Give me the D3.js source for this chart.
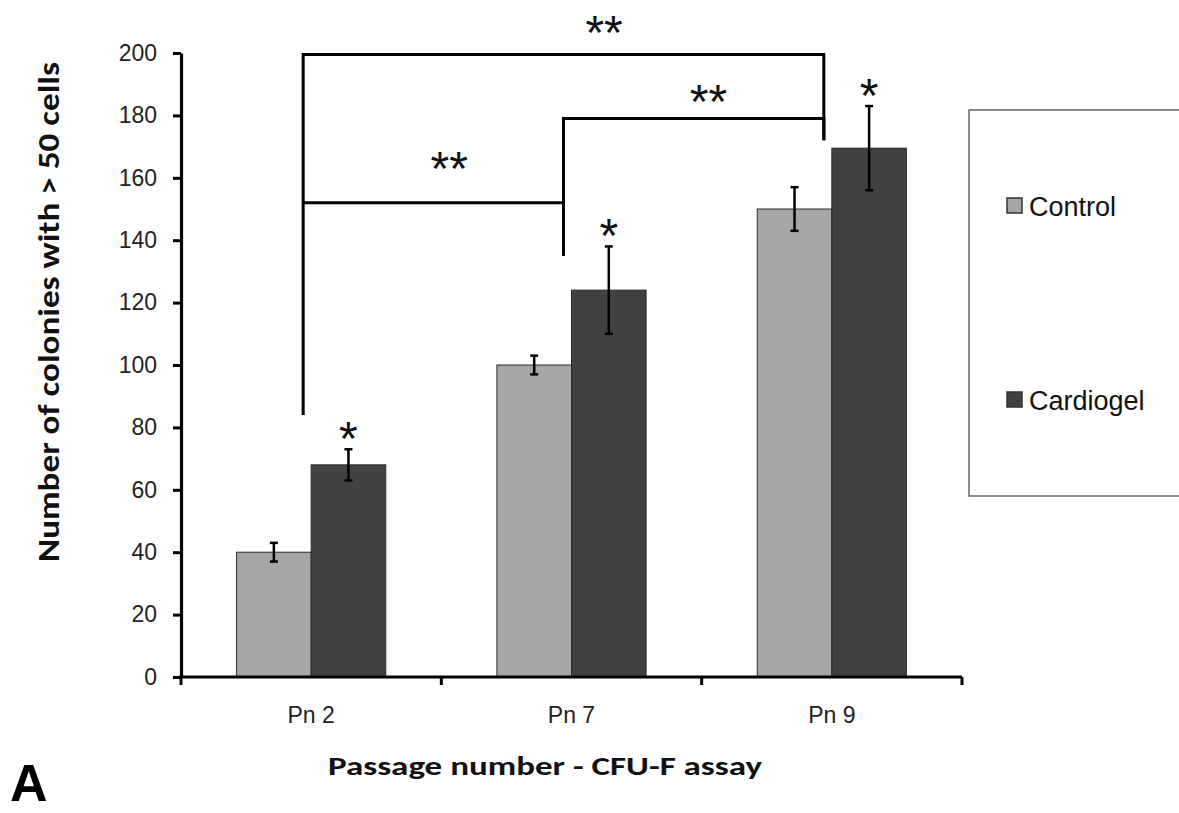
<!DOCTYPE html>
<html>
<head>
<meta charset="utf-8">
<script src="https://cdn.jsdelivr.net/npm/d3@7"></script>
<style>
  body { margin: 0; background: #fff; }
  svg { display: block; }
</style>
</head>
<body>
<div id="chart"></div>
<script>
"use strict";

// values
var categories = ["Pn 2", "Pn 7", "Pn 9"];
var seriesNames = ["Control", "Cardiogel"];
var controlValues = [40, 100, 150];
var controlErrors = [3, 3, 7];
var cardiogelValues = [68, 124, 169.5];
var cardiogelErrors = [5, 14, 13.5];
var cardiogelStars = ["*", "*", "*"];
var yTicks = [0, 20, 40, 60, 80, 100, 120, 140, 160, 180, 200];

// significance brackets: from / to category, height of bar, leg ends, label spot
var bracketFrom = [0, 1, 0];
var bracketTo = [2, 2, 1];
var bracketLevel = [199.5, 179, 152];
var bracketLeftEnd = [84, 135, 152];
var bracketRightEnd = [172, 172, 135];
var bracketLabel = ["**", "**", "**"];
var bracketLabelPos = [0.578, 0.557, 0.561];
var bracketLabelY = [210, 188, 166.5];

var colors = { Control: "#a6a6a6", Cardiogel: "#414141" };

var width = 1179, height = 813;
var svg = d3.select("#chart").append("svg")
    .attr("width", width)
    .attr("height", height);

var x = d3.scaleBand().domain(categories).range([181, 962]);
var xSub = d3.scaleBand().domain(seriesNames).range([0, x.bandwidth()]).paddingOuter(0.745);
var y = d3.scaleLinear().domain([0, 200]).range([677, 53]);

var rows = categories.map(function (c, i) {
    return [
        { cat: c, name: "Control", value: controlValues[i], err: controlErrors[i], star: "" },
        { cat: c, name: "Cardiogel", value: cardiogelValues[i], err: cardiogelErrors[i], star: cardiogelStars[i] }
    ];
});
var bars = d3.merge(rows);

// bars
svg.append("g").selectAll("rect")
    .data(bars)
    .enter().append("rect")
    .attr("x", function (d) { return x(d.cat) + xSub(d.name); })
    .attr("y", function (d) { return y(d.value); })
    .attr("width", xSub.bandwidth())
    .attr("height", function (d) { return y(0) - y(d.value); })
    .attr("fill", function (d) { return colors[d.name]; })
    .attr("stroke", "#2a2a2a")
    .attr("stroke-width", 1);

// error bars
var err = svg.append("g").attr("stroke", "#000").attr("stroke-width", 2.5).selectAll("g")
    .data(bars)
    .enter().append("g")
    .attr("transform", function (d) { return "translate(" + (x(d.cat) + xSub(d.name) + xSub.bandwidth() / 2) + ",0)"; });
err.append("line")
    .attr("y1", function (d) { return y(d.value + d.err); })
    .attr("y2", function (d) { return y(d.value - d.err); });
err.append("line")
    .attr("x1", -4).attr("x2", 4)
    .attr("y1", function (d) { return y(d.value + d.err); })
    .attr("y2", function (d) { return y(d.value + d.err); });
err.append("line")
    .attr("x1", -4).attr("x2", 4)
    .attr("y1", function (d) { return y(d.value - d.err); })
    .attr("y2", function (d) { return y(d.value - d.err); });

// stars over bars
var starSize = 48;
svg.append("g").selectAll("text")
    .data(bars.filter(function (d) { return d.star; }))
    .enter().append("text")
    .attr("x", function (d) { return x(d.cat) + xSub(d.name) + xSub.bandwidth() / 2; })
    .attr("y", function (d) { return y(d.value + d.err) - 22 + starSize * 0.575; })
    .attr("text-anchor", "middle")
    .attr("font-family", "Liberation Sans, Arial, sans-serif")
    .attr("font-size", starSize)
    .attr("fill", "#111")
    .text(function (d) { return d.star; });

// brackets
function legX(i) { return x(categories[i]) + x.bandwidth() / 2 - 8; }
var br = svg.append("g").selectAll("g")
    .data(bracketFrom.map(function (f, i) { return i; }))
    .enter().append("g");
br.append("path")
    .attr("fill", "none")
    .attr("stroke", "#000")
    .attr("stroke-width", 3)
    .attr("d", function (i) {
        return "M" + legX(bracketFrom[i]) + "," + y(bracketLeftEnd[i]) +
            "V" + y(bracketLevel[i]) +
            "H" + legX(bracketTo[i]) +
            "V" + y(bracketRightEnd[i]);
    });
br.append("text")
    .attr("x", function (i) {
        var a = legX(bracketFrom[i]), b = legX(bracketTo[i]);
        return a + (b - a) * bracketLabelPos[i];
    })
    .attr("y", function (i) { return y(bracketLabelY[i]) + starSize * 0.575; })
    .attr("text-anchor", "middle")
    .attr("font-family", "Liberation Sans, Arial, sans-serif")
    .attr("font-size", starSize)
    .attr("fill", "#111")
    .text(function (i) { return bracketLabel[i]; });

// y axis
var yAxis = svg.append("g")
    .attr("transform", "translate(181,0)")
    .call(d3.axisLeft(y).tickValues(yTicks).tickSize(8).tickSizeOuter(0).tickPadding(16));
yAxis.select(".domain").attr("stroke-width", 3.2);
yAxis.selectAll(".tick line").attr("stroke-width", 3);
yAxis.selectAll(".tick text")
    .attr("font-family", "Liberation Sans, Arial, sans-serif")
    .attr("font-size", 23)
    .attr("fill", "#222");

// x axis: ticks sit on category boundaries, labels in the middle
var xAxis = svg.append("g").attr("transform", "translate(0,677)");
xAxis.append("line")
    .attr("x1", x.range()[0] - 1.6).attr("x2", x.range()[1])
    .attr("stroke", "#000").attr("stroke-width", 3.2);
var edges = categories.map(function (c) { return x(c); }).concat([x.range()[1]]);
xAxis.selectAll(".edge")
    .data(edges)
    .enter().append("line")
    .attr("class", "edge")
    .attr("x1", function (d) { return d; }).attr("x2", function (d) { return d; })
    .attr("y1", 0).attr("y2", 8)
    .attr("stroke", "#000").attr("stroke-width", 3);
xAxis.selectAll(".lbl")
    .data(categories)
    .enter().append("text")
    .attr("class", "lbl")
    .attr("x", function (d) { return x(d) + x.bandwidth() / 2; })
    .attr("y", 46)
    .attr("text-anchor", "middle")
    .attr("font-family", "Liberation Sans, Arial, sans-serif")
    .attr("font-size", 23)
    .attr("fill", "#222")
    .text(function (d) { return d; });

// axis titles
svg.append("text")
    .attr("x", 545)
    .attr("y", 775)
    .attr("text-anchor", "middle")
    .attr("font-family", "Carlito, Liberation Sans, Arial, sans-serif")
    .attr("font-weight", "bold")
    .attr("font-size", 26)
    .attr("textLength", 434)
    .attr("lengthAdjust", "spacingAndGlyphs")
    .attr("fill", "#111")
    .text("Passage number - CFU-F assay");

svg.append("text")
    .attr("transform", "translate(59,312) rotate(-90)")
    .attr("text-anchor", "middle")
    .attr("font-family", "Carlito, Liberation Sans Narrow, Liberation Sans, Arial, sans-serif")
    .attr("font-weight", "bold")
    .attr("font-size", 31)
    .attr("textLength", 500)
    .attr("lengthAdjust", "spacingAndGlyphs")
    .attr("fill", "#111")
    .text("Number of colonies with > 50 cells");

// legend
var legend = svg.append("g");
legend.append("rect")
    .attr("x", 969).attr("y", 110)
    .attr("width", 260).attr("height", 386)
    .attr("fill", "#fff")
    .attr("stroke", "#666")
    .attr("stroke-width", 1.5);
var legItem = legend.selectAll(".item")
    .data(seriesNames)
    .enter().append("g")
    .attr("class", "item")
    .attr("transform", function (d, i) { return "translate(1007," + [206, 400][i] + ")"; });
legItem.append("rect")
    .attr("x", 0).attr("y", -8)
    .attr("width", 15).attr("height", 15)
    .attr("fill", function (d) { return colors[d]; })
    .attr("stroke", "#333")
    .attr("stroke-width", 1.5);
legItem.append("text")
    .attr("x", 22)
    .attr("y", 10)
    .attr("font-family", "Liberation Sans, Arial, sans-serif")
    .attr("font-size", 27)
    .attr("fill", "#111")
    .text(function (d) { return d; });

// panel letter
svg.append("text")
    .attr("x", 10)
    .attr("y", 801)
    .attr("font-family", "Liberation Sans, Arial, sans-serif")
    .attr("font-weight", "bold")
    .attr("font-size", 52)
    .attr("fill", "#000")
    .text("A");
</script>
</body>
</html>
